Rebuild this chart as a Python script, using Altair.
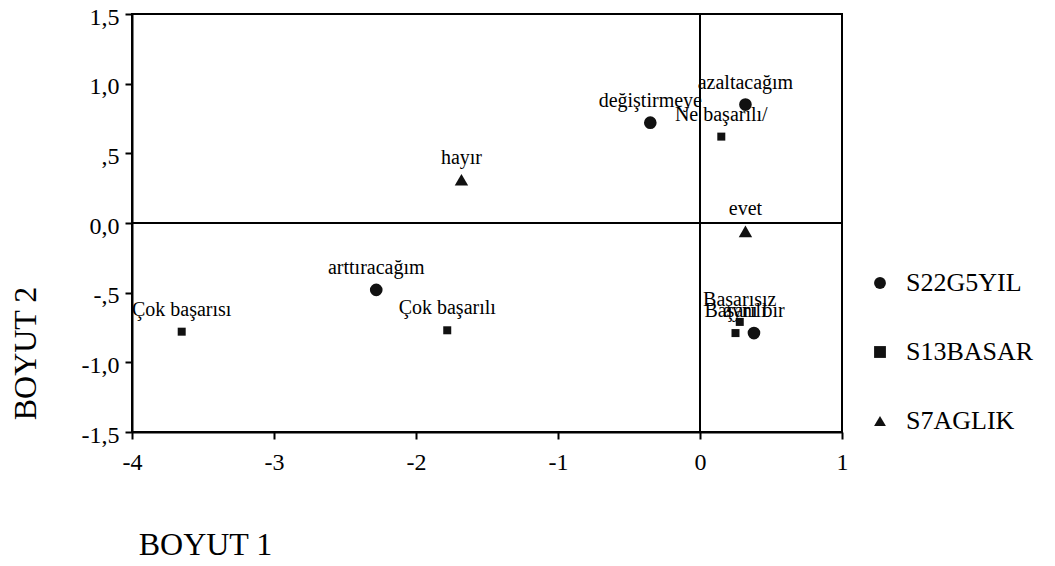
import altair as alt
import pandas as pd

# ---- data ----
labels = ["azaltacağım", "değiştirmeye", "arttıracağım", "aynı bır",
          "Ne başarılı/", "Çok başarısı", "Çok başarılı", "Başarısız", "Başarılı",
          "hayır", "evet"]
dim1 = [0.32, -0.35, -2.28, 0.38,
        0.15, -3.65, -1.78, 0.28, 0.25,
        -1.68, 0.32]
dim2 = [0.85, 0.72, -0.48, -0.79,
        0.62, -0.78, -0.77, -0.71, -0.79,
        0.31, -0.06]
series = ["S22G5YIL"] * 4 + ["S13BASAR"] * 5 + ["S7AGLIK"] * 2

series_order = ["S22G5YIL", "S13BASAR", "S7AGLIK"]
series_shapes = ["circle", "square", "triangle-up"]
series_sizes = [160, 64, 180]

x_ticks = [-4, -3, -2, -1, 0, 1]
x_tick_labels = ["-4", "-3", "-2", "-1", "0", "1"]
y_ticks = [-1.5, -1.0, -0.5, 0.0, 0.5, 1.0, 1.5]
y_tick_labels = ["-1,5", "-1,0", "-,5", "0,0", ",5", "1,0", "1,5"]

df = pd.DataFrame({"label": labels, "d1": dim1, "d2": dim2, "series": series})
df["sz"] = df["series"].map(dict(zip(series_order, series_sizes)))
zero_df = pd.DataFrame({"z": [0]})

FONT = "Liberation Serif"


def label_expr(vals, texts):
    expr = "''"
    for v, t in zip(reversed(vals), reversed(texts)):
        expr = f"abs(datum.value - ({v})) < 1e-6 ? '{t}' : ({expr})"
    return expr


x_enc = alt.X("d1:Q", scale=alt.Scale(domain=[-4, 1], nice=False, zero=False),
              axis=alt.Axis(values=x_ticks, labelExpr=label_expr(x_ticks, x_tick_labels),
                            title="BOYUT 1", grid=False, tickSize=7, tickWidth=2,
                            domainWidth=2, domainColor="black", tickColor="black",
                            labelFont=FONT, labelFontSize=24, labelColor="black",
                            labelPadding=11, labelFlush=False,
                            titleFont=FONT, titleFontSize=32, titleFontWeight="normal",
                            titleColor="black", titleAlign="center", titleBaseline="middle",
                            titleX=73, titleY=112))
y_enc = alt.Y("d2:Q", scale=alt.Scale(domain=[-1.5, 1.5], nice=False, zero=False),
              axis=alt.Axis(values=y_ticks, labelExpr=label_expr(y_ticks, y_tick_labels),
                            title="BOYUT 2", grid=False, tickSize=7, tickWidth=2,
                            domainWidth=2, domainColor="black", tickColor="black",
                            labelFont=FONT, labelFontSize=24, labelColor="black",
                            labelPadding=6, labelFlush=False, labelBaseline="middle",
                            labelOffset=3,
                            titleFont=FONT, titleFontSize=32, titleFontWeight="normal",
                            titleColor="black", titleAlign="center", titleBaseline="middle",
                            titleAngle=270, titleX=-107, titleY=339))

legend = alt.Legend(title=None, orient="none", legendX=735, legendY=256,
                    labelFont=FONT, labelFontSize=26, labelColor="black",
                    labelOffset=13, rowPadding=43, padding=0, symbolSize=140,
                    symbolFillColor="#111111", symbolStrokeColor="#111111")

points = alt.Chart(df).mark_point(filled=True, color="#111111", opacity=1).encode(
    x=x_enc,
    y=y_enc,
    shape=alt.Shape("series:N", scale=alt.Scale(domain=series_order, range=series_shapes),
                    legend=legend),
    size=alt.Size("sz:Q", scale=None),
)

texts = alt.Chart(df).mark_text(font=FONT, fontSize=20, color="black", dy=-22,
                                align="center", baseline="middle").encode(
    x="d1:Q", y="d2:Q", text="label:N")

vline = alt.Chart(zero_df).mark_rule(color="black", strokeWidth=2).encode(x="z:Q")
hline = alt.Chart(zero_df).mark_rule(color="black", strokeWidth=2).encode(y="z:Q")

chart = alt.layer(vline, hline, points, texts).properties(
    width=710, height=418,
    autosize=alt.AutoSizeParams(type="none"),
    padding={"left": 124, "top": 6, "right": 205, "bottom": 126},
    background="white",
).configure(
    font=FONT
).configure_view(
    stroke="black", strokeWidth=2
).configure_text(font=FONT)

chart.save("out.html", embed_options={"renderer": "svg", "actions": False})
